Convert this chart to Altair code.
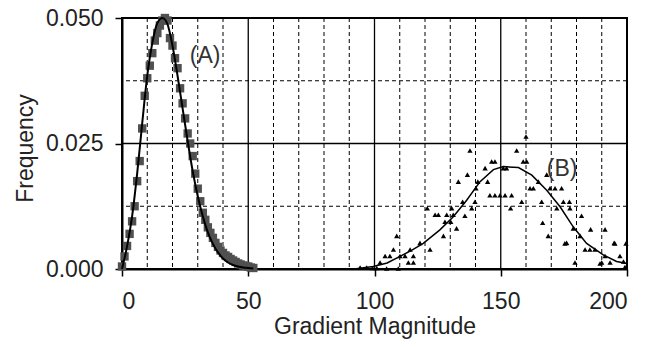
import altair as alt
import pandas as pd

# Series A (squares)
a_x = list(range(0, 53))
a_f = [0.0005, 0.0025, 0.0046, 0.0070, 0.0095, 0.0125, 0.0175, 0.0215, 0.0280, 0.0345,
       0.0380, 0.0405, 0.0430, 0.0455, 0.0470, 0.0485, 0.0495, 0.0500, 0.0495, 0.0460,
       0.0445, 0.0420, 0.0400, 0.0360, 0.0330, 0.0300, 0.0270, 0.0250, 0.0225, 0.0190,
       0.0160, 0.0135, 0.0112, 0.0098, 0.0083, 0.0072, 0.0062, 0.0052, 0.0044, 0.0037,
       0.0032, 0.0027, 0.0024, 0.0020, 0.0017, 0.0014, 0.0011, 0.0009, 0.0007, 0.0006,
       0.0005, 0.0003, 0.0002]

# Curve A (fit)
ca_x = [0, 2, 4, 6, 8, 10, 12, 14, 16, 18, 20, 22, 24, 26, 28, 30, 32, 34, 36, 38, 40, 42, 44, 46, 48, 50, 52]
ca_f = [0.0, 0.0045, 0.0105, 0.0190, 0.0290, 0.0385, 0.0450, 0.0490, 0.0500, 0.0488, 0.0445,
        0.0385, 0.0320, 0.0255, 0.0195, 0.0145, 0.0105, 0.0073, 0.0050, 0.0033, 0.0021,
        0.0013, 0.0008, 0.0005, 0.0003, 0.0002, 0.0001]

# Series B (triangles)
b_x = [160.0, 137.8, 156.3, 146.4, 147.7, 158.9, 160.3, 143.8, 151.0, 152.3, 136.8, 168.2,
       133.2, 140.9, 144.8, 164.9, 140.2, 161.6, 162.9, 169.5, 171.5, 174.1, 145.7, 147.7,
       149.7, 151.7, 154.3, 134.9, 139.8, 158.3, 166.2, 174.8, 177.2, 120.9, 130.6, 138.5,
       153.9, 172.2, 177.4, 124.0, 125.3, 128.6, 131.2, 135.8, 182.0, 127.9, 130.2, 166.6,
       132.5, 178.7, 185.6, 191.3, 108.8, 127.3, 168.8, 181.4, 118.0, 176.1, 194.9, 199.6,
       107.5, 114.1, 122.0, 183.4, 185.3, 187.3, 104.2, 106.1, 110.1, 112.1, 115.4, 197.2,
       191.3, 102.2, 113.4, 115.4, 179.4, 190.0, 193.3, 198.6, 100.9, 104.8, 109.4, 94.3,
       96.9, 99.2, 199.2, 175.4, 189.3, 195.2]
b_f = [0.0264, 0.0236, 0.0236, 0.0214, 0.0214, 0.0214, 0.0214, 0.0201, 0.0201, 0.0201, 0.0188, 0.0188,
       0.0174, 0.0174, 0.0174, 0.0174, 0.0161, 0.0161, 0.0161, 0.0161, 0.0161, 0.0161, 0.0147, 0.0147,
       0.0147, 0.0147, 0.0147, 0.0134, 0.0134, 0.0134, 0.0134, 0.0134, 0.0134, 0.0121, 0.0121, 0.0121,
       0.0121, 0.0121, 0.0121, 0.0108, 0.0108, 0.0108, 0.0108, 0.0106, 0.0106, 0.0094, 0.0094, 0.0092,
       0.0081, 0.0081, 0.0079, 0.0079, 0.0066, 0.0066, 0.0066, 0.0066, 0.0052, 0.0052, 0.0052, 0.0051,
       0.0039, 0.0039, 0.0039, 0.0039, 0.0039, 0.0039, 0.0026, 0.0026, 0.0026, 0.0026, 0.0026, 0.0026,
       0.0026, 0.0013, 0.0013, 0.0013, 0.0013, 0.0013, 0.0013, 0.0015, 0.0002, 0.0001, 0.0001, 0.0003,
       0.0003, 0.0002, 0.0004, 0.0051, 0.0011, 0.0051]

# Curve B (fit)
cb_x = [92, 99.5, 105, 110.1, 115, 119.3, 125.9, 131.2, 136.5, 141.8, 147.1, 151, 157, 162.3,
        168.2, 173.5, 178.7, 184, 190.6, 195.9, 199.9]
cb_f = [0.0, 0.0005, 0.0012, 0.0025, 0.0038, 0.0051, 0.0078, 0.0104, 0.0137, 0.0174, 0.0198,
        0.0204, 0.0202, 0.0187, 0.0157, 0.0124, 0.0084, 0.0051, 0.0028, 0.0015, 0.0011]

# Annotations
lab_text = ["(A)", "(B)"]
lab_x = [32.9, 174.3]
lab_y = [0.0424, 0.0199]

# Grid values
x_ticks = [0, 50, 100, 150, 200]
y_ticks = [0.0, 0.025, 0.05]
major_x = [50, 100, 150]
minor_x = [10, 20, 30, 40, 60, 70, 80, 90, 110, 120, 130, 140, 160, 170, 180, 190]
major_y = [0.025]
minor_y = [0.0125, 0.0375]

FONT = "Liberation Sans"
FS = 23

xs = alt.Scale(domain=[0, 200], nice=False)
ys = alt.Scale(domain=[0, 0.05], nice=False)
xax = alt.Axis(values=x_ticks, title="Gradient Magnitude", grid=False, tickSize=7,
               labelPadding=14, titleY=46)
yax = alt.Axis(values=y_ticks, format=".3f", title="Frequency", grid=False, tickSize=7,
               labelPadding=12, titlePadding=8, titleY=130)


def X():
    return alt.X("x:Q", scale=xs, axis=xax)


def Y():
    return alt.Y("f:Q", scale=ys, axis=yax)


df_a = pd.DataFrame({"x": a_x, "f": a_f})
df_ca = pd.DataFrame({"x": ca_x, "f": ca_f})
df_b = pd.DataFrame({"x": b_x, "f": b_f})
df_cb = pd.DataFrame({"x": cb_x, "f": cb_f})
df_lab = pd.DataFrame({"t": lab_text, "x": lab_x, "f": lab_y})

minor_v = alt.Chart(pd.DataFrame({"x": minor_x})).mark_rule(
    color="black", strokeWidth=1, strokeDash=[4, 3]).encode(x=X())
minor_h = alt.Chart(pd.DataFrame({"f": minor_y})).mark_rule(
    color="black", strokeWidth=1, strokeDash=[4, 3]).encode(y=Y())
major_v = alt.Chart(pd.DataFrame({"x": major_x})).mark_rule(
    color="black", strokeWidth=1.3).encode(x=X())
major_h = alt.Chart(pd.DataFrame({"f": major_y})).mark_rule(
    color="black", strokeWidth=1.3).encode(y=Y())

squares = alt.Chart(df_a).mark_square(size=70, color="#505050", opacity=1).encode(x=X(), y=Y())
line_a = alt.Chart(df_ca).mark_line(color="black", strokeWidth=2, interpolate="monotone").encode(x=X(), y=Y())
tri = alt.Chart(df_b).mark_point(shape="triangle-up", filled=True, size=28, color="black", opacity=1).encode(
    x=X(), y=Y())
line_b = alt.Chart(df_cb).mark_line(color="black", strokeWidth=1.5).encode(x=X(), y=Y())
labels = alt.Chart(df_lab).mark_text(font=FONT, fontSize=FS, color="#333333", align="center",
                                     baseline="middle").encode(x=X(), y=Y(), text="t:N")

chart = alt.layer(minor_v, minor_h, major_v, major_h, squares, line_a, tri, line_b, labels).properties(
    width=505, height=251,
    autosize=alt.AutoSizeParams(type="none"),
    padding={"left": 114, "top": 10, "right": 25, "bottom": 70},
).configure_view(stroke="black", strokeWidth=2).configure_axis(
    labelFont=FONT, titleFont=FONT, labelFontSize=FS, titleFontSize=FS,
    labelColor="#222222", titleColor="#222222", titleFontWeight="normal",
    domainColor="black", domainWidth=2, tickColor="black", tickWidth=1.5,
)

chart.save("out.html", embed_options={"renderer": "svg", "actions": False})
